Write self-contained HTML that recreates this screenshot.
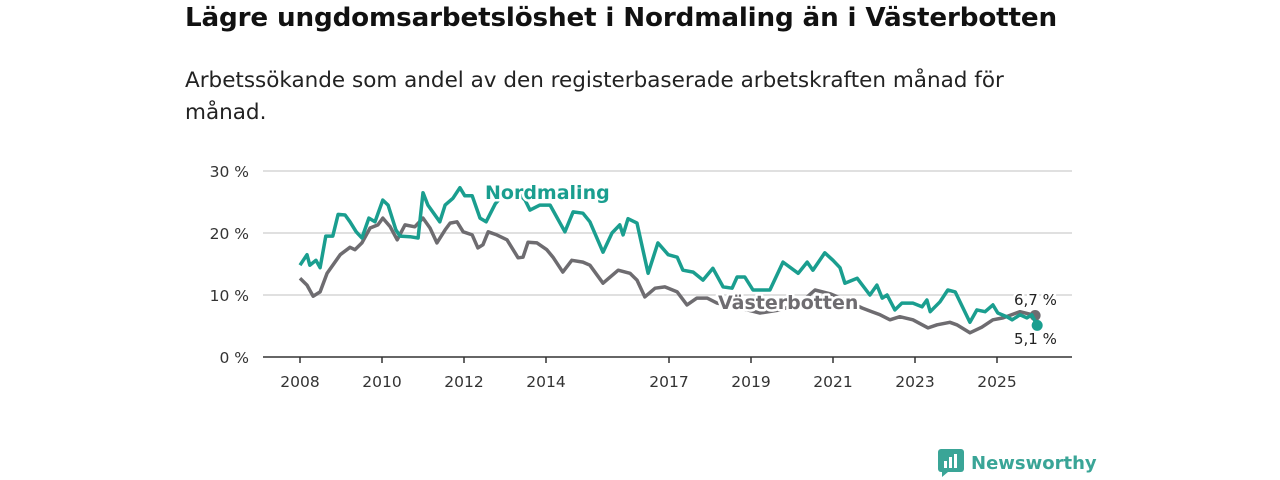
<!DOCTYPE html>
<html><head><meta charset="utf-8"><style>
body{margin:0;width:1280px;height:480px;background:#fff;font-family:"DejaVu Sans","Liberation Sans",sans-serif;overflow:hidden;position:relative}
h1{position:absolute;left:185px;top:3px;margin:0;font-size:26.2px;font-weight:bold;color:#111;white-space:nowrap;letter-spacing:-0.15px}
p.sub{position:absolute;left:185px;top:65px;margin:0;font-size:21.5px;line-height:32px;color:#222;width:850px}
svg{position:absolute;left:0;top:0}
.halo{paint-order:stroke;stroke:#fff;stroke-width:5px;stroke-linejoin:round}
</style></head><body>
<h1>Lägre ungdomsarbetslöshet i Nordmaling än i Västerbotten</h1>
<p class="sub">Arbetssökande som andel av den registerbaserade arbetskraften månad för månad.</p>
<svg id="chart" width="1280" height="480"></svg>
<div style="position:absolute;left:938px;top:449px;display:flex;align-items:center;gap:7px">
<svg width="26" height="28" style="position:static"><rect x="0" y="0" width="26" height="23" rx="3" fill="#3aa597"/><polygon points="4,23 10,23 4,28" fill="#3aa597"/><rect x="6" y="12" width="3" height="7" fill="#fff"/><rect x="11" y="8" width="3" height="11" fill="#fff"/><rect x="16" y="5" width="3" height="14" fill="#fff"/></svg>
<span style="font-size:18px;font-weight:bold;color:#3aa597">Newsworthy</span></div>
<script>
const ticksY=[0,10,20,30];
const tickYLabels=["0 %","10 %","20 %","30 %"];
const ticksX=[2008,2010,2012,2014,2017,2019,2021,2023,2025];
const nordT=[0.00,0.17,0.24,0.39,0.49,0.63,0.80,0.93,1.10,1.22,1.37,1.51,1.68,1.83,2.02,2.15,2.34,2.44,2.68,2.88,3.00,3.12,3.41,3.54,3.73,3.90,4.02,4.20,4.39,4.54,4.76,5.00,5.24,5.49,5.61,5.85,6.10,6.46,6.66,6.90,7.07,7.39,7.61,7.80,7.88,8.00,8.22,8.49,8.73,8.98,9.20,9.34,9.59,9.83,10.07,10.32,10.54,10.66,10.85,11.05,11.46,11.78,12.15,12.37,12.51,12.80,13.00,13.17,13.29,13.59,13.90,14.07,14.20,14.32,14.51,14.68,14.95,15.17,15.29,15.37,15.61,15.80,15.98,16.17,16.34,16.51,16.71,16.90,17.02,17.24,17.37,17.56,17.73,17.85,17.98];
const nordV=[14.8,16.5,14.8,15.6,14.4,19.5,19.5,23.0,22.9,21.8,20.2,19.2,22.4,21.8,25.3,24.5,20.5,19.5,19.4,19.2,26.5,24.5,21.8,24.5,25.6,27.3,26.0,26.0,22.4,21.8,24.7,26.5,27.0,25.3,23.7,24.5,24.5,20.2,23.4,23.2,21.8,16.9,20.0,21.3,19.7,22.3,21.6,13.5,18.4,16.5,16.1,14.0,13.7,12.4,14.3,11.3,11.1,12.9,12.9,10.8,10.8,15.3,13.5,15.3,14.0,16.8,15.6,14.4,11.9,12.7,10.0,11.6,9.5,10.0,7.6,8.7,8.7,8.1,9.2,7.3,8.9,10.8,10.5,7.9,5.6,7.6,7.3,8.4,7.1,6.5,6.0,6.8,6.3,6.8,5.1];
const vastT=[0.00,0.17,0.32,0.49,0.66,0.98,1.22,1.34,1.51,1.71,1.90,2.02,2.20,2.37,2.56,2.80,3.00,3.17,3.34,3.54,3.66,3.83,3.98,4.20,4.34,4.46,4.59,4.80,5.05,5.32,5.44,5.56,5.78,6.02,6.17,6.41,6.63,6.90,7.07,7.39,7.76,8.05,8.22,8.41,8.66,8.90,9.20,9.44,9.68,9.93,10.17,10.73,11.22,11.71,12.20,12.56,12.93,13.29,13.71,13.95,14.15,14.39,14.63,14.95,15.32,15.54,15.85,16.02,16.34,16.63,16.90,17.15,17.56,17.93];
const vastV=[12.7,11.6,9.8,10.5,13.5,16.5,17.7,17.3,18.4,20.8,21.3,22.4,21.0,18.9,21.3,21.0,22.4,20.8,18.4,20.5,21.6,21.8,20.2,19.7,17.6,18.1,20.2,19.7,18.9,16.0,16.1,18.5,18.4,17.3,16.1,13.7,15.6,15.3,14.8,11.9,14.0,13.5,12.4,9.7,11.1,11.3,10.5,8.4,9.5,9.5,8.7,7.9,7.1,7.6,8.7,10.8,10.2,9.2,7.9,7.3,6.8,6.0,6.5,6.0,4.7,5.2,5.6,5.2,3.9,4.8,6.0,6.3,7.3,6.7];
const svg=document.getElementById('chart');const NS='http://www.w3.org/2000/svg';
const xs=t=>300+t*41, xy=y=>300+(y-2008)*41, ys=v=>357-v*6.2;
function mk(tag,at,txt){const e=document.createElementNS(NS,tag);for(const k in at)e.setAttribute(k,at[k]);if(txt!=null)e.textContent=txt;svg.appendChild(e);return e;}
ticksY.forEach((v,i)=>{
 if(v>0){const g=mk('line',{x1:263,x2:1072,y1:ys(v),y2:ys(v),stroke:'#d6d6d6','stroke-width':1.5});
 
 }
 const t=mk('text',{x:249,y:ys(v)+6,'text-anchor':'end','font-size':15.5,fill:'#333'},tickYLabels[i]);
 
 
});
const ax=mk('line',{x1:263,x2:1072,y1:357,y2:357,stroke:'#333','stroke-width':1.5});


ticksX.forEach(yr=>{
 const l=mk('line',{x1:xy(yr),x2:xy(yr),y1:357,y2:363,stroke:'#333','stroke-width':1.5});
 
 
 const t=mk('text',{x:xy(yr),y:387,'text-anchor':'middle','font-size':15.5,fill:'#333'},yr);
 
 
});
function line(T,V,col,name){const d=T.map((t,i)=>(i?'L':'M')+xs(t).toFixed(1)+','+ys(V[i]).toFixed(1)).join('');
 const p=mk('path',{d:d,fill:'none',stroke:col,'stroke-width':3.5,'stroke-linejoin':'round'});
 
 
 const n=T.length-1;const c=mk('circle',{cx:xs(T[n]),cy:ys(V[n]),r:5.5,fill:col});
 
 }
line(vastT,vastV,'#6e6c70','vasterbotten-line');
line(nordT,nordV,'#1a9e8f','nordmaling-line');
const l1=mk('text',{x:485,y:199,'font-size':19,'font-weight':'bold',fill:'#1a9e8f',class:'halo'},'Nordmaling');


const l2=mk('text',{x:718,y:309,'font-size':19,'font-weight':'bold',fill:'#6e6c70',class:'halo'},'Västerbotten');


const v1=mk('text',{x:1014,y:305,'font-size':15,fill:'#222',class:'halo'},'6,7 %');


const v2=mk('text',{x:1014,y:344,'font-size':15,fill:'#222',class:'halo'},'5,1 %');


</script>
</body></html>
